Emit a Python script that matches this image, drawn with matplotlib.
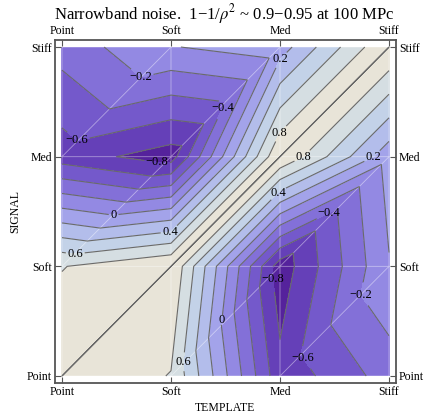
import matplotlib
matplotlib.use("Agg")
import matplotlib.pyplot as plt
import matplotlib.tri as mtri
import numpy as np

plt.rcParams['font.family'] = ['Liberation Serif', 'DejaVu Serif']
plt.rcParams['mathtext.fontset'] = 'stix'

models = ['Point', 'Soft', 'Med', 'Stiff']
# overlap values, one list per signal model, ordered by template model
sig_point = [1.0, 0.79, -0.74, -0.31]
sig_soft = [0.79, 1.0, -0.92, -0.01]
sig_med = [-0.70, -0.90, 1.0, 0.07]
sig_stiff = [-0.32, -0.01, 0.10, 1.0]

levels = [-1.0, -0.8, -0.6, -0.4, -0.2, 0.0, 0.2, 0.4, 0.6, 0.8, 1.0]
band_colors = ['#55229c', '#6540b8', '#7459cb', '#8370d8', '#9389e3',
               '#a3a3ea', '#b3bdeb', '#c3d2e8', '#d5dee2', '#e8e4d8']

# where the contour labels sit (template, signal)
label_spots = [(0.72, 2.71), (1.47, 2.45), (1.98, 2.90), (0.09, 2.09),
               (0.88, 2.0), (1.99, 2.22), (2.21, 2.0), (2.85, 2.0),
               (0.47, 1.50), (0.99, 1.33), (0.12, 1.13), (1.98, 1.67),
               (2.46, 1.45), (2.0, 0.89), (2.72, 0.73), (1.48, 0.51),
               (1.11, 0.13), (2.12, 0.10)]

z = np.array([sig_point, sig_soft, sig_med, sig_stiff])
n = len(models)
X, Y = np.meshgrid(np.arange(n), np.arange(n))
tris = []
for j in range(n - 1):
    for i in range(n - 1):
        bl = j * n + i
        br = bl + 1
        tl = bl + n
        tr = tl + 1
        tris.append([bl, br, tr])
        tris.append([bl, tr, tl])
tri = mtri.Triangulation(X.ravel().astype(float), Y.ravel().astype(float), tris)

fig = plt.figure(figsize=(4.27, 4.16), dpi=100)
ax = fig.add_axes([0.1288, 0.0793, 0.7986, 0.8245])

ax.tricontourf(tri, z.ravel(), levels=levels, colors=band_colors)
ax.triplot(tri, color='white', lw=0.6, alpha=0.45)
cs = ax.tricontour(tri, z.ravel(), levels=levels, colors='#6a6a6a',
                   linewidths=0.8, negative_linestyles='solid')


def fmt(v):
    if abs(v) < 1e-9:
        return '0'
    return ('%.1f' % v).replace('-', '\u2212')


labs = ax.clabel(cs, manual=label_spots, inline=True, inline_spacing=2,
                 fmt=fmt, fontsize=9, colors='black')
for t in labs:
    t.set_rotation(0)

ax.set_xlim(-0.064, 3.064)
ax.set_ylim(-0.064, 3.064)
ax.set_xticks(range(n))
ax.set_xticklabels(models)
ax.set_yticks(range(n))
ax.set_yticklabels(models)
ax.tick_params(top=True, right=True, labeltop=True, labelright=True,
               direction='in', length=4, width=0.8, color='#555555',
               labelsize=8.5, pad=2)
for s in ax.spines.values():
    s.set_color('#555555')
    s.set_linewidth(1.3)

ax.set_xlabel('TEMPLATE', fontsize=8.5, labelpad=3)
ax.set_ylabel('SIGNAL', fontsize=8.5, labelpad=4)
fig.text(0.525, 0.966, 'Narrowband noise.  1\u22121/$\\rho^2$ ~ 0.9\u22120.95 at 100 MPc',
         ha='center', va='center', fontsize=12)

fig.savefig('out.png', dpi=100)
